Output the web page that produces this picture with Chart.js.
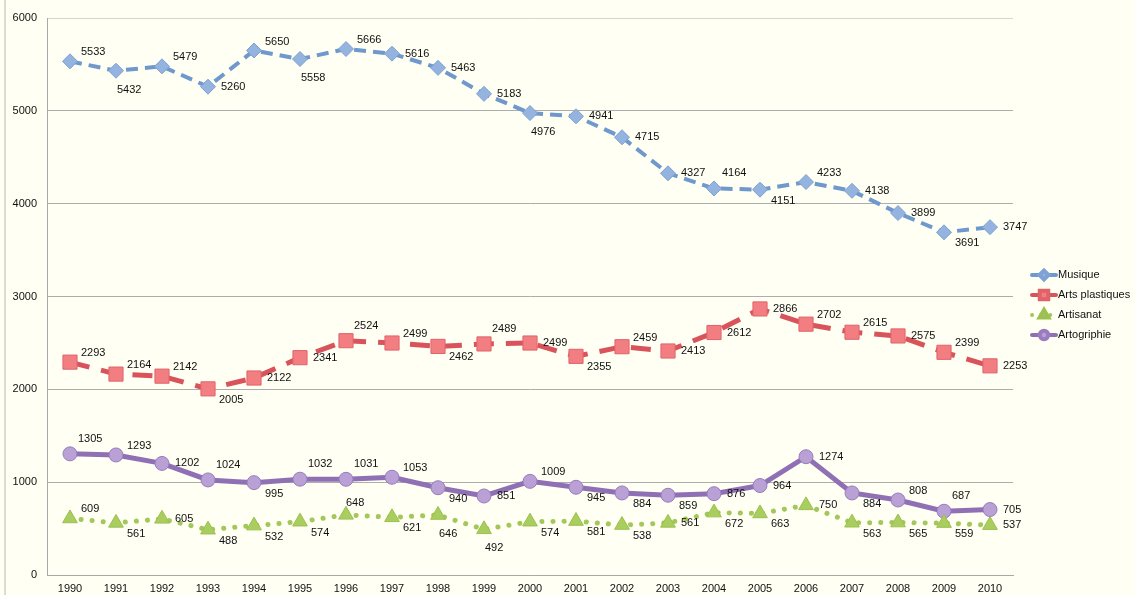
<!DOCTYPE html>
<html>
<head>
<meta charset="utf-8">
<script src="https://cdn.jsdelivr.net/npm/chart.js@4.4.0/dist/chart.umd.min.js"></script>
<style>
html, body { margin: 0; padding: 0; background: #fffff3; }
#wrap { width: 1135px; height: 595px; position: relative; }
</style>
</head>
<body>
<div id="wrap"><canvas id="chart"></canvas></div>
<script>
const years = ['1990','1991','1992','1993','1994','1995','1996','1997','1998','1999','2000',
               '2001','2002','2003','2004','2005','2006','2007','2008','2009','2010'];
const musique = [5533,5432,5479,5260,5650,5558,5666,5616,5463,5183,4976,4941,4715,4327,4164,4151,4233,4138,3899,3691,3747];
const artsPlastiques = [2293,2164,2142,2005,2122,2341,2524,2499,2462,2489,2499,2355,2459,2413,2612,2866,2702,2615,2575,2399,2253];
const artisanat = [609,561,605,488,532,574,648,621,646,492,574,581,538,561,672,663,750,563,565,559,537];
const artogriphie = [1305,1293,1202,1024,995,1032,1031,1053,940,851,1009,945,884,859,876,964,1274,884,808,687,705];
const yTicks = [0, 1000, 2000, 3000, 4000, 5000, 6000];

// where each value label sits next to its marker
const musiquePos     = ['u','D','u','r','u','D','u','r','r','r','D','r','r','r','U','d','u','r','r','d','r'];
const plastiquesPos  = ['u','u','u','d','r','r','U','u','d','U','r','d','u','r','r','r','u','u','r','u','r'];
const artisanatPos   = ['u','d','r','d','d','d','A','d','D','D','d','d','d','r','d','d','r','d','d','d','r'];
const artogriphiePos = ['U','u','r','U','d','U','U','u','d','r','u','d','d','d','r','r','r','d','u','U','r'];

const offsets = {
  r: [13, 0], u: [11, -9], U: [8, -15], d: [11, 11], D: [1, 19], A: [0, -12]
};

const bg = '#fffff3';

const backdrop = {
  id: 'backdrop',
  beforeDraw(chart) {
    const c = chart.ctx;
    c.save();
    c.fillStyle = bg;
    c.fillRect(0, 0, chart.width, chart.height);
    c.strokeStyle = '#dcdcd0';
    c.lineWidth = 2;
    c.beginPath();
    c.moveTo(5, 0);
    c.lineTo(5, chart.height);
    c.stroke();
    c.restore();
  }
};

const valueLabels = {
  id: 'valueLabels',
  afterDatasetsDraw(chart) {
    const c = chart.ctx;
    c.save();
    c.font = '11px "Liberation Sans", Arial, sans-serif';
    c.fillStyle = '#111';
    c.textAlign = 'left';
    c.textBaseline = 'middle';
    chart.data.datasets.forEach((ds, i) => {
      const meta = chart.getDatasetMeta(i);
      meta.data.forEach((pt, j) => {
        const o = offsets[ds.labelPos[j]] || offsets.r;
        c.fillText(String(ds.data[j]), pt.x + o[0], pt.y + o[1]);
      });
    });
    c.restore();
  }
};

const sideLegend = {
  id: 'sideLegend',
  afterDraw(chart) {
    const c = chart.ctx;
    const x0 = 1030, w = 28;
    c.save();
    c.font = '11px "Liberation Sans", Arial, sans-serif';
    c.textBaseline = 'middle';
    c.textAlign = 'left';
    chart.data.datasets.forEach((ds, i) => {
      const y = 275 + i * 20;
      c.strokeStyle = ds.borderColor;
      c.lineWidth = 4;
      c.lineCap = 'round';
      c.setLineDash(ds.legendDash);
      c.beginPath();
      c.moveTo(x0 + 2, y);
      c.lineTo(x0 + w - 2, y);
      c.stroke();
      c.setLineDash([]);
      c.fillStyle = ds.pointBackgroundColor;
      c.strokeStyle = ds.pointBorderColor;
      Chart.helpers.drawPoint(c, {
        pointStyle: ds.pointStyle, radius: ds.pointRadius * 0.6, rotation: 0, borderWidth: 1
      }, x0 + w / 2, y);
      c.fillStyle = '#111';
      c.fillText(ds.label, x0 + w, y);
    });
    c.restore();
  }
};

new Chart(document.getElementById('chart'), {
  type: 'line',
  data: {
    labels: years,
    datasets: [
      {
        label: 'Musique', data: musique, labelPos: musiquePos,
        borderColor: '#6f98cc', borderWidth: 4, borderDash: [12, 7],
        pointStyle: 'rectRot', pointRadius: 7.5, pointBackgroundColor: '#94b3df',
        pointBorderColor: '#7ea2d3', pointBorderWidth: 1, legendDash: []
      },
      {
        label: 'Arts plastiques', data: artsPlastiques, labelPos: plastiquesPos,
        borderColor: '#d9545a', borderWidth: 5, borderDash: [20, 12],
        pointStyle: 'rect', pointRadius: 10, pointBackgroundColor: '#f27e82',
        pointBorderColor: '#e0636a', pointBorderWidth: 1, legendDash: []
      },
      {
        label: 'Artisanat', data: artisanat, labelPos: artisanatPos,
        borderColor: '#a3c85a', borderWidth: 5, borderDash: [0.1, 11], borderCapStyle: 'round',
        pointStyle: 'triangle', pointRadius: 8.5, pointBackgroundColor: '#a9cd5e',
        pointBorderColor: '#9cc052', pointBorderWidth: 1, legendDash: [0.1, 9]
      },
      {
        label: 'Artogriphie', data: artogriphie, labelPos: artogriphiePos,
        borderColor: '#9070b4', borderWidth: 5,
        pointStyle: 'circle', pointRadius: 7, pointBackgroundColor: '#b9a1d6',
        pointBorderColor: '#9a7cbf', pointBorderWidth: 1, legendDash: []
      }
    ]
  },
  options: {
    responsive: true,
    maintainAspectRatio: false,
    animation: false,
    layout: { padding: { top: 18, right: 122, left: 0, bottom: 0 } },
    elements: { line: { tension: 0 } },
    plugins: {
      legend: { display: false },
      tooltip: { enabled: false }
    },
    scales: {
      x: {
        offset: true,
        grid: { display: false, drawTicks: false },
        border: { color: '#a8a8a8' },
        ticks: { color: '#111', font: { size: 11, family: '"Liberation Sans", Arial' }, padding: 7, maxRotation: 0 },
        afterFit(s) { s.height = 20; }
      },
      y: {
        min: 0, max: 6000,
        afterBuildTicks(s) { s.ticks = yTicks.map(v => ({ value: v })); },
        grid: {
          drawTicks: false,
          color: (ctx) => ctx.tick && ctx.tick.value === 6000 ? '#d6d6cc' : '#adadad'
        },
        border: { color: '#a8a8a8' },
        ticks: {
          color: '#111', font: { size: 11, family: '"Liberation Sans", Arial' }, padding: 10,
          callback: (v) => String(v)
        },
        afterFit(s) { s.width = 47; }
      }
    }
  },
  plugins: [backdrop, valueLabels, sideLegend]
});
</script>
</body>
</html>
